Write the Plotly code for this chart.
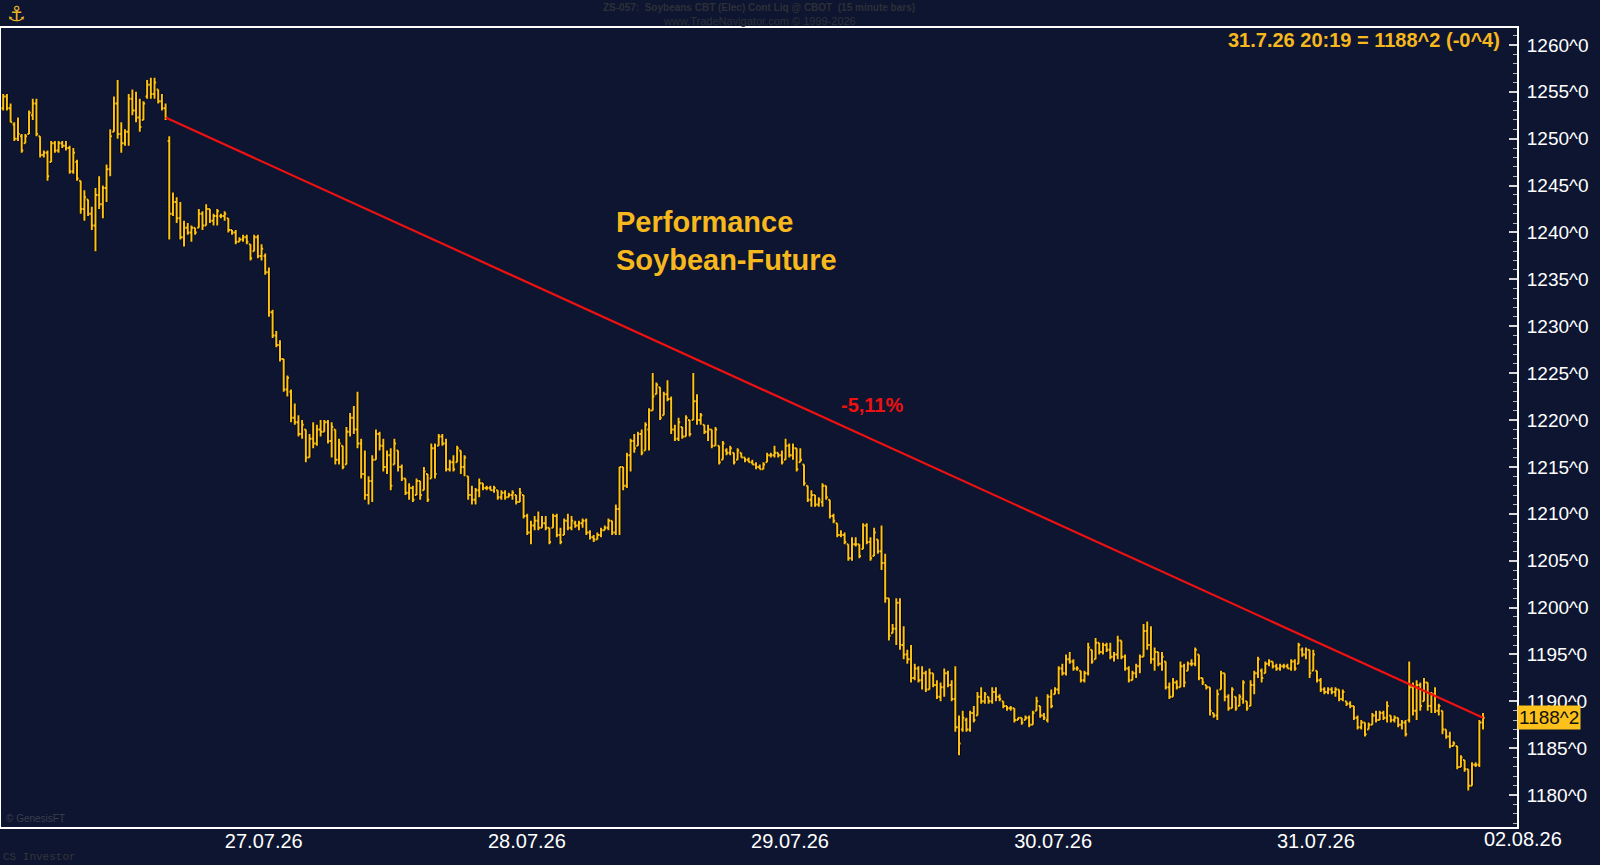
import plotly.graph_objects as go

# Soybeans CBT (Elec) Cont Liq, 15 minute bars, 27.07.26 - 31.07.26
opens = [
    1253.25, 1254.5, 1253.25, 1251.5, 1250.0, 1250.25, 1249.5, 1250.5, 1252.5, 1253.75,
    1250.25, 1248.25, 1248.5, 1247.5, 1249.5, 1248.75, 1249.5, 1249.25, 1249.0, 1246.5,
    1247.5, 1245.5, 1242.5, 1243.5, 1242.0, 1240.75, 1244.0, 1243.0, 1244.75, 1246.75,
    1250.75, 1253.75, 1250.5, 1249.5, 1250.75, 1254.25, 1253.0, 1252.25, 1252.0, 1254.5,
    1255.75, 1254.75, 1255.25, 1254.0, 1253.25, 1249.75, 1242.0, 1243.25, 1241.5, 1239.5,
    1240.5, 1240.0, 1240.5, 1240.5, 1242.0, 1240.75, 1242.5, 1241.25, 1241.75, 1241.75,
    1241.75, 1241.5, 1240.25, 1240.0, 1239.0, 1239.25, 1239.5, 1238.75, 1238.0, 1239.5,
    1237.5, 1237.5, 1235.75, 1231.5, 1229.0, 1228.0, 1226.5, 1223.25, 1223.0, 1220.25,
    1219.75, 1218.5, 1219.0, 1216.0, 1218.0, 1217.5, 1219.0, 1218.75, 1219.75, 1217.75,
    1219.0, 1215.75, 1217.25, 1215.25, 1218.75, 1220.25, 1219.0, 1217.5, 1214.25, 1212.0,
    1213.5, 1215.75, 1218.5, 1217.25, 1215.0, 1216.25, 1215.25, 1216.75, 1215.0, 1213.75,
    1212.25, 1212.75, 1212.0, 1213.5, 1212.5, 1214.25, 1213.75, 1217.0, 1217.25, 1218.25,
    1217.5, 1214.75, 1215.5, 1215.5, 1216.75, 1215.0, 1214.0, 1212.0, 1211.5, 1212.5,
    1213.25, 1212.75, 1212.75, 1212.5, 1212.5, 1211.75, 1212.25, 1211.75, 1212.0, 1212.0,
    1211.25, 1212.0, 1209.75, 1208.0, 1208.75, 1209.25, 1208.5, 1209.0, 1208.5, 1208.5,
    1209.75, 1207.75, 1207.75, 1209.25, 1208.5, 1209.0, 1208.75, 1209.0, 1209.25, 1208.0,
    1207.5, 1207.25, 1207.75, 1208.25, 1208.5, 1209.25, 1208.0, 1210.5, 1215.0, 1213.0,
    1216.25, 1217.75, 1217.25, 1218.5, 1216.75, 1219.0, 1221.0, 1222.75, 1223.5, 1220.5,
    1222.75, 1222.25, 1219.0, 1218.0, 1219.25, 1218.25, 1220.0, 1220.0, 1222.0, 1220.0,
    1219.5, 1218.75, 1219.0, 1217.25, 1217.25, 1215.75, 1216.75, 1216.5, 1216.5, 1215.75,
    1216.5, 1216.0, 1215.75, 1215.5, 1215.25, 1215.0, 1214.75, 1215.5, 1216.25, 1216.25,
    1216.5, 1216.25, 1215.75, 1217.25, 1216.25, 1217.0, 1215.5, 1215.25, 1213.0, 1211.5,
    1212.0, 1211.0, 1211.25, 1213.0, 1211.5, 1209.75, 1209.0, 1207.75, 1207.75, 1206.75,
    1205.25, 1206.75, 1206.75, 1206.25, 1208.75, 1207.0, 1205.5, 1207.25, 1206.0, 1204.75,
    1201.0, 1197.25, 1197.75, 1200.5, 1196.0, 1195.0, 1194.5, 1192.5, 1193.5, 1192.25,
    1193.0, 1191.25, 1193.0, 1191.75, 1190.5, 1191.5, 1193.0, 1191.75, 1190.25, 1187.25,
    1187.0, 1188.0, 1187.0, 1188.75, 1188.5, 1190.5, 1190.0, 1190.5, 1190.0, 1191.0,
    1190.5, 1190.0, 1189.5, 1189.25, 1189.25, 1188.0, 1188.25, 1188.0, 1188.25, 1187.5,
    1189.0, 1189.5, 1188.5, 1188.0, 1190.5, 1190.75, 1191.25, 1193.5, 1193.0, 1194.5,
    1194.25, 1193.5, 1193.25, 1192.25, 1193.0, 1195.5, 1194.5, 1196.25, 1195.25, 1196.0,
    1195.5, 1194.75, 1195.0, 1196.5, 1194.75, 1193.5, 1192.25, 1193.0, 1193.75, 1194.75,
    1197.5, 1196.0, 1194.5, 1195.25, 1194.0, 1194.25, 1191.5, 1190.5, 1192.0, 1191.5,
    1193.75, 1193.25, 1194.0, 1194.0, 1195.0, 1192.5, 1191.75, 1191.5, 1188.75, 1188.5,
    1191.25, 1193.0, 1190.5, 1189.25, 1190.5, 1189.5, 1190.25, 1190.0, 1189.5, 1191.75,
    1193.0, 1193.25, 1193.0, 1194.0, 1194.25, 1193.75, 1193.5, 1193.75, 1193.75, 1193.5,
    1194.25, 1194.0, 1195.5, 1195.0, 1195.5, 1193.25, 1193.25, 1192.25, 1191.25, 1191.0,
    1191.25, 1191.0, 1191.25, 1190.25, 1190.0, 1189.75, 1189.5, 1188.25, 1187.25, 1187.75,
    1187.0, 1187.5, 1188.5, 1188.0, 1188.75, 1188.25, 1188.5, 1188.0, 1188.25, 1187.5,
    1187.75, 1188.0, 1191.5, 1189.0, 1191.75, 1190.0, 1192.0, 1189.5, 1190.75, 1189.0,
    1189.0, 1187.0, 1186.25, 1185.25, 1185.25, 1183.0, 1183.75, 1182.75, 1181.0, 1183.25,
    1183.25, 1187.75,
]

highs = [
    1254.75, 1254.75, 1253.75, 1251.75, 1252.25, 1250.5, 1250.5, 1253.0, 1254.25, 1254.25,
    1250.25, 1248.75, 1248.75, 1249.75, 1249.75, 1249.75, 1249.75, 1249.75, 1249.25, 1249.0,
    1247.75, 1245.5, 1244.5, 1243.5, 1242.75, 1244.75, 1246.0, 1245.0, 1247.25, 1251.0,
    1254.5, 1256.25, 1251.75, 1251.0, 1254.75, 1255.25, 1255.0, 1254.25, 1254.0, 1256.25,
    1256.5, 1256.5, 1255.25, 1254.75, 1253.75, 1250.25, 1244.25, 1243.75, 1243.25, 1241.25,
    1241.0, 1240.75, 1240.5, 1242.5, 1242.25, 1243.0, 1242.5, 1242.0, 1242.5, 1242.0,
    1242.25, 1241.5, 1240.25, 1240.25, 1239.5, 1239.75, 1239.75, 1238.75, 1239.75, 1239.75,
    1238.75, 1237.75, 1236.25, 1231.75, 1229.5, 1228.5, 1226.5, 1224.75, 1223.25, 1221.75,
    1220.5, 1220.0, 1219.0, 1218.5, 1219.75, 1219.5, 1220.0, 1220.0, 1220.0, 1219.75,
    1219.0, 1218.0, 1217.25, 1219.25, 1220.75, 1221.5, 1223.0, 1218.0, 1216.75, 1214.0,
    1216.25, 1219.0, 1218.75, 1218.0, 1216.75, 1217.0, 1218.0, 1216.75, 1215.25, 1213.75,
    1213.25, 1213.0, 1213.75, 1213.5, 1215.0, 1214.25, 1217.5, 1217.5, 1218.5, 1218.5,
    1218.0, 1215.75, 1216.25, 1217.25, 1216.75, 1216.25, 1214.0, 1213.0, 1212.75, 1213.75,
    1213.25, 1213.0, 1213.0, 1213.0, 1212.5, 1212.5, 1212.5, 1212.25, 1212.5, 1212.0,
    1212.75, 1212.0, 1210.0, 1209.25, 1209.75, 1210.25, 1209.75, 1209.75, 1208.5, 1210.0,
    1210.0, 1208.5, 1209.5, 1210.0, 1209.75, 1209.25, 1209.25, 1209.5, 1209.5, 1208.25,
    1207.75, 1208.0, 1208.5, 1208.75, 1209.5, 1209.25, 1211.0, 1215.0, 1215.0, 1216.5,
    1218.0, 1218.5, 1218.75, 1219.0, 1219.75, 1221.25, 1225.0, 1224.0, 1223.5, 1223.0,
    1224.25, 1222.5, 1219.5, 1220.25, 1219.25, 1220.5, 1220.0, 1225.0, 1222.75, 1220.75,
    1219.5, 1219.5, 1219.0, 1219.25, 1217.25, 1217.75, 1217.0, 1217.25, 1216.5, 1217.0,
    1216.5, 1216.0, 1216.0, 1215.75, 1215.5, 1215.25, 1215.5, 1216.5, 1216.5, 1217.25,
    1216.5, 1216.75, 1218.0, 1217.5, 1217.5, 1217.0, 1217.0, 1215.25, 1213.0, 1212.5,
    1212.0, 1211.75, 1213.25, 1213.0, 1211.5, 1210.0, 1209.0, 1208.25, 1208.0, 1206.75,
    1207.5, 1207.5, 1206.75, 1209.0, 1209.0, 1207.5, 1208.5, 1207.25, 1208.75, 1205.75,
    1201.0, 1198.25, 1201.0, 1201.0, 1198.0, 1195.5, 1196.0, 1194.0, 1193.75, 1193.75,
    1193.25, 1193.5, 1193.0, 1192.25, 1192.0, 1193.5, 1193.25, 1192.25, 1193.75, 1188.5,
    1189.0, 1188.25, 1189.0, 1189.5, 1191.0, 1191.5, 1191.0, 1190.5, 1191.5, 1191.5,
    1190.75, 1190.0, 1189.5, 1189.5, 1189.25, 1188.25, 1188.25, 1188.5, 1188.5, 1189.0,
    1190.5, 1189.5, 1188.75, 1190.75, 1191.25, 1191.5, 1193.75, 1194.0, 1195.0, 1195.25,
    1194.5, 1193.75, 1193.25, 1193.25, 1196.25, 1195.5, 1196.75, 1196.25, 1196.25, 1196.25,
    1196.25, 1195.25, 1197.0, 1196.5, 1195.0, 1193.75, 1193.25, 1194.0, 1195.0, 1198.25,
    1198.5, 1198.0, 1195.75, 1195.25, 1195.25, 1194.25, 1192.0, 1192.5, 1192.25, 1194.25,
    1194.0, 1194.25, 1194.5, 1195.75, 1195.0, 1192.5, 1191.75, 1191.5, 1188.75, 1191.25,
    1193.25, 1193.0, 1190.75, 1191.5, 1190.5, 1190.75, 1192.25, 1190.0, 1192.25, 1193.25,
    1194.75, 1193.5, 1194.25, 1194.5, 1194.25, 1194.0, 1194.0, 1194.0, 1194.0, 1194.5,
    1194.5, 1196.25, 1195.75, 1195.75, 1195.5, 1195.5, 1193.25, 1192.5, 1191.5, 1191.5,
    1191.5, 1191.5, 1191.25, 1191.25, 1190.0, 1190.0, 1189.5, 1188.5, 1188.0, 1187.75,
    1187.75, 1188.75, 1189.0, 1189.0, 1189.0, 1190.0, 1188.5, 1188.5, 1188.25, 1188.0,
    1188.0, 1194.25, 1192.0, 1192.25, 1192.0, 1192.5, 1192.0, 1191.0, 1191.5, 1189.75,
    1189.0, 1187.0, 1186.75, 1185.75, 1185.25, 1184.25, 1183.75, 1182.75, 1183.5, 1183.5,
    1188.0, 1188.75,
]

lows = [
    1253.0, 1253.0, 1251.75, 1249.75, 1249.75, 1248.5, 1249.5, 1250.5, 1252.0, 1250.25,
    1248.0, 1248.0, 1245.5, 1247.5, 1248.5, 1248.5, 1249.0, 1248.75, 1246.25, 1246.25,
    1245.5, 1242.0, 1241.25, 1241.75, 1240.25, 1238.0, 1242.5, 1241.5, 1243.25, 1246.0,
    1250.75, 1250.0, 1248.5, 1249.25, 1249.25, 1252.5, 1251.75, 1250.75, 1252.0, 1254.25,
    1254.25, 1254.25, 1253.75, 1253.0, 1252.0, 1239.25, 1241.75, 1241.0, 1239.25, 1238.5,
    1239.75, 1239.0, 1239.75, 1240.5, 1240.25, 1240.75, 1241.0, 1240.75, 1240.75, 1241.5,
    1241.25, 1240.0, 1239.75, 1238.75, 1239.0, 1239.0, 1238.75, 1237.0, 1238.0, 1237.25,
    1237.0, 1235.5, 1231.0, 1228.75, 1227.75, 1226.25, 1223.0, 1222.5, 1219.75, 1219.5,
    1218.25, 1218.0, 1215.5, 1216.0, 1217.0, 1217.25, 1218.25, 1218.75, 1217.5, 1216.0,
    1215.25, 1215.25, 1214.75, 1215.25, 1218.25, 1218.5, 1217.0, 1213.75, 1211.5, 1211.0,
    1211.25, 1215.75, 1216.75, 1214.5, 1214.25, 1212.5, 1215.25, 1214.5, 1213.5, 1212.0,
    1211.5, 1211.25, 1212.0, 1211.5, 1212.5, 1211.25, 1213.75, 1213.75, 1217.25, 1217.25,
    1214.5, 1214.5, 1214.5, 1215.5, 1214.25, 1214.0, 1211.5, 1211.0, 1211.0, 1211.75,
    1212.5, 1212.5, 1212.5, 1212.25, 1211.5, 1211.5, 1211.5, 1211.75, 1211.5, 1211.0,
    1211.25, 1209.5, 1207.75, 1206.75, 1208.25, 1208.25, 1208.5, 1208.25, 1206.75, 1208.5,
    1207.5, 1206.75, 1207.75, 1208.25, 1208.25, 1208.5, 1208.25, 1208.5, 1207.75, 1207.25,
    1207.0, 1207.25, 1207.5, 1208.25, 1208.25, 1207.75, 1207.75, 1207.75, 1212.5, 1212.75,
    1214.5, 1216.5, 1217.25, 1216.25, 1216.75, 1216.75, 1221.0, 1222.75, 1220.0, 1220.5,
    1222.0, 1218.5, 1217.75, 1217.75, 1218.0, 1218.25, 1218.25, 1220.0, 1219.5, 1219.5,
    1218.5, 1217.75, 1217.0, 1217.25, 1215.25, 1215.75, 1216.25, 1216.25, 1215.25, 1215.75,
    1216.0, 1215.5, 1215.5, 1215.25, 1214.75, 1214.75, 1214.75, 1215.5, 1216.0, 1216.0,
    1216.0, 1215.25, 1215.75, 1216.0, 1215.75, 1214.5, 1215.5, 1213.0, 1211.25, 1210.75,
    1210.75, 1210.75, 1210.75, 1211.5, 1209.5, 1209.0, 1207.5, 1207.5, 1206.75, 1205.0,
    1205.0, 1206.5, 1205.25, 1206.25, 1206.75, 1205.0, 1205.5, 1205.75, 1204.0, 1200.5,
    1196.5, 1197.25, 1196.0, 1195.5, 1194.5, 1194.0, 1192.0, 1192.25, 1192.0, 1191.25,
    1191.0, 1191.25, 1191.5, 1190.25, 1190.0, 1190.5, 1191.5, 1190.0, 1186.75, 1184.25,
    1186.75, 1186.75, 1186.75, 1187.75, 1188.5, 1189.75, 1189.75, 1189.75, 1189.75, 1190.0,
    1190.0, 1189.25, 1189.0, 1189.0, 1187.75, 1188.0, 1187.5, 1188.0, 1187.25, 1187.5,
    1189.0, 1188.25, 1188.0, 1187.75, 1189.25, 1190.75, 1190.75, 1192.75, 1192.75, 1194.0,
    1193.25, 1193.25, 1192.0, 1192.0, 1192.75, 1194.0, 1194.5, 1195.0, 1195.0, 1195.25,
    1194.5, 1194.25, 1194.5, 1194.5, 1193.25, 1192.0, 1192.25, 1192.5, 1193.0, 1194.75,
    1195.5, 1194.0, 1193.25, 1193.75, 1193.25, 1191.25, 1190.25, 1190.5, 1191.25, 1191.5,
    1191.5, 1193.25, 1193.75, 1193.75, 1192.25, 1191.75, 1191.25, 1188.5, 1188.25, 1188.0,
    1191.25, 1190.0, 1189.0, 1189.25, 1189.0, 1189.5, 1189.75, 1189.0, 1189.5, 1190.75,
    1192.5, 1192.0, 1193.0, 1193.75, 1193.5, 1193.25, 1193.25, 1193.5, 1193.5, 1193.25,
    1193.25, 1194.0, 1194.75, 1194.5, 1192.5, 1193.25, 1192.0, 1191.0, 1190.75, 1190.75,
    1190.75, 1190.5, 1190.0, 1190.0, 1189.5, 1189.25, 1188.0, 1187.0, 1187.0, 1186.25,
    1187.0, 1187.5, 1187.75, 1188.0, 1188.0, 1187.75, 1187.75, 1187.75, 1187.25, 1187.0,
    1186.25, 1187.75, 1188.5, 1188.0, 1189.0, 1190.0, 1189.0, 1188.75, 1188.75, 1188.5,
    1186.5, 1186.0, 1185.0, 1185.25, 1182.75, 1183.0, 1182.5, 1180.5, 1181.0, 1183.0,
    1183.0, 1187.0,
]

closes = [
    1254.5, 1253.25, 1251.75, 1250.0, 1250.5, 1248.75, 1250.25, 1252.75, 1253.75, 1250.5,
    1248.25, 1248.5, 1246.0, 1249.5, 1248.75, 1249.5, 1249.25, 1249.0, 1246.5, 1248.5,
    1245.75, 1242.5, 1243.75, 1242.0, 1240.75, 1244.0, 1243.0, 1244.75, 1246.75, 1250.25,
    1253.75, 1250.5, 1249.5, 1250.75, 1254.25, 1253.0, 1252.25, 1251.25, 1253.75, 1255.75,
    1254.75, 1256.0, 1254.0, 1253.25, 1252.25, 1242.0, 1243.25, 1241.5, 1239.5, 1240.5,
    1240.0, 1240.5, 1240.0, 1242.0, 1240.75, 1242.5, 1241.25, 1241.75, 1242.25, 1241.75,
    1242.0, 1240.25, 1240.0, 1239.0, 1239.25, 1239.5, 1239.0, 1237.25, 1239.5, 1237.5,
    1238.25, 1235.75, 1231.5, 1229.0, 1228.0, 1226.5, 1223.25, 1224.5, 1220.25, 1219.75,
    1218.5, 1219.5, 1216.0, 1218.0, 1217.5, 1219.0, 1218.75, 1219.75, 1217.75, 1219.25,
    1215.75, 1217.5, 1215.0, 1218.75, 1220.25, 1219.0, 1217.5, 1214.25, 1212.0, 1213.5,
    1215.75, 1218.5, 1217.25, 1215.0, 1216.25, 1213.0, 1217.5, 1215.0, 1213.75, 1212.25,
    1212.75, 1211.5, 1213.5, 1212.0, 1214.5, 1211.5, 1217.0, 1214.25, 1218.25, 1217.5,
    1214.75, 1215.5, 1214.75, 1217.0, 1215.0, 1216.0, 1212.0, 1211.5, 1212.5, 1213.25,
    1212.75, 1212.75, 1212.5, 1212.75, 1211.75, 1212.25, 1211.75, 1212.0, 1212.25, 1211.25,
    1212.25, 1209.75, 1208.0, 1208.75, 1209.25, 1208.5, 1209.0, 1208.5, 1207.0, 1209.75,
    1207.75, 1207.0, 1209.25, 1208.5, 1209.25, 1208.75, 1209.0, 1209.25, 1208.0, 1207.5,
    1207.25, 1207.75, 1208.25, 1208.5, 1209.25, 1208.0, 1210.5, 1215.0, 1213.0, 1216.25,
    1217.75, 1217.0, 1218.5, 1216.5, 1219.5, 1221.0, 1222.5, 1223.75, 1220.25, 1222.75,
    1222.25, 1219.0, 1218.0, 1219.75, 1218.25, 1220.25, 1218.5, 1222.0, 1220.0, 1220.5,
    1218.75, 1219.0, 1217.25, 1219.0, 1215.5, 1217.5, 1216.5, 1217.0, 1215.5, 1216.75,
    1216.0, 1215.75, 1215.5, 1215.25, 1215.0, 1214.75, 1215.25, 1216.25, 1216.25, 1216.5,
    1216.25, 1215.5, 1217.25, 1216.25, 1217.0, 1214.75, 1215.75, 1213.25, 1211.5, 1212.0,
    1211.0, 1211.5, 1213.0, 1211.75, 1209.75, 1209.25, 1207.75, 1207.75, 1207.0, 1205.25,
    1206.75, 1206.75, 1205.5, 1208.75, 1207.0, 1205.25, 1208.0, 1206.0, 1204.75, 1201.0,
    1197.0, 1197.75, 1200.5, 1196.0, 1195.0, 1194.5, 1192.5, 1193.5, 1192.25, 1193.0,
    1191.25, 1193.0, 1191.75, 1190.5, 1191.5, 1193.0, 1191.75, 1190.25, 1187.25, 1185.5,
    1188.25, 1187.0, 1188.75, 1188.0, 1190.5, 1190.0, 1190.75, 1190.0, 1191.0, 1190.5,
    1190.25, 1189.5, 1189.25, 1189.25, 1188.0, 1188.25, 1187.75, 1188.25, 1187.5, 1188.75,
    1190.0, 1188.5, 1188.25, 1190.5, 1189.5, 1191.25, 1193.5, 1193.0, 1194.5, 1194.25,
    1193.5, 1193.5, 1192.25, 1193.0, 1195.75, 1194.25, 1196.25, 1195.25, 1196.0, 1195.5,
    1194.75, 1195.0, 1196.5, 1194.75, 1193.5, 1192.25, 1193.0, 1193.75, 1194.75, 1197.5,
    1196.0, 1194.5, 1195.25, 1194.0, 1194.75, 1191.5, 1190.5, 1192.0, 1191.5, 1193.75,
    1192.0, 1194.0, 1194.0, 1195.5, 1192.5, 1192.0, 1191.5, 1189.0, 1188.5, 1190.75,
    1193.0, 1190.5, 1189.25, 1191.25, 1189.25, 1190.5, 1192.0, 1189.25, 1191.75, 1193.0,
    1194.5, 1192.5, 1194.0, 1194.25, 1193.75, 1193.5, 1193.75, 1193.75, 1193.5, 1194.25,
    1193.5, 1196.0, 1195.0, 1195.5, 1193.0, 1195.0, 1192.25, 1191.25, 1191.0, 1191.25,
    1191.0, 1191.25, 1190.25, 1191.0, 1189.75, 1189.5, 1188.25, 1187.25, 1187.75, 1186.5,
    1187.5, 1188.5, 1188.0, 1188.75, 1188.25, 1189.5, 1188.0, 1188.25, 1187.5, 1187.75,
    1186.5, 1191.5, 1189.0, 1191.75, 1189.5, 1192.0, 1189.5, 1190.75, 1189.0, 1189.5,
    1187.0, 1186.25, 1185.25, 1185.5, 1183.0, 1184.0, 1182.75, 1181.0, 1183.25, 1183.25,
    1187.75, 1188.25,
]

assert len(opens) == len(highs) == len(lows) == len(closes)

# day labels on the time axis (bar index of each label)
day_positions = [70.6, 141.9, 213.2, 284.5, 355.7]
day_labels = ['27.07.26', '28.07.26', '29.07.26', '30.07.26', '31.07.26']
last_day_label = '02.08.26'

# trend line from the close before the gap down to the last close
trend_start = 44
perf_text = '-5,11%'
last_quote = '31.7.26 20:19 = 1188^2 (-0^4)'

bg = '#0d1530'
gold = '#fcc21b'
font_main = 'Arial, Liberation Sans, sans-serif'


def cbot(v):
    # CBOT quote style: 1188.25 -> 1188^2 (eighths)
    whole = int(v)
    return f"{whole}^{int(round((v - whole) * 8))}"


bars = list(range(len(closes)))

fig = go.Figure()

# dark outline below the bars
fig.add_trace(go.Ohlc(
    x=bars, open=opens, high=highs, low=lows, close=closes,
    increasing_line_color='#000000', decreasing_line_color='#000000',
    line_width=3.6, tickwidth=0.45, hoverinfo='skip', showlegend=False,
))
fig.add_trace(go.Ohlc(
    x=bars, open=opens, high=highs, low=lows, close=closes,
    increasing_line_color=gold, decreasing_line_color=gold,
    line_width=2.0, tickwidth=0.45, showlegend=False,
))

# red performance line
fig.add_trace(go.Scatter(
    x=[bars[trend_start], bars[-1]],
    y=[closes[trend_start], closes[-1]],
    mode='lines', line=dict(color='#ee1111', width=2.2),
    hoverinfo='skip', showlegend=False,
))

tickvals = list(range(1180, 1261, 5))

fig.update_layout(
    width=1600,
    height=865,
    margin=dict(l=1, r=83, t=28, b=38),
    paper_bgcolor=bg,
    plot_bgcolor=bg,
    font=dict(family=font_main, color='white'),
    showlegend=False,
    xaxis=dict(
        range=[-0.6, 410.2],
        rangeslider=dict(visible=False),
        showgrid=False, zeroline=False,
        showline=True, linecolor='white', linewidth=2, mirror=True,
        tickvals=day_positions, ticktext=day_labels,
        ticks='', tickfont=dict(size=20, color='white'),
        ticklabelstandoff=-5,
        automargin=False,
    ),
    yaxis=dict(
        side='right',
        range=[1176.6, 1261.8],
        showgrid=False, zeroline=False,
        showline=True, linecolor='white', linewidth=2, mirror=True,
        tickvals=tickvals, ticktext=[cbot(v) for v in tickvals],
        ticks='inside', ticklen=8, tickwidth=1.5, tickcolor='#d8d8d8',
        minor=dict(dtick=1, ticks='inside', ticklen=4, tickcolor='#b8b8b8', tickwidth=1),
        tickfont=dict(size=19, color='white'),
        ticklabelstandoff=4,
        automargin=False,
    ),
)

plot_h = 865 - 28 - 38

annotations = [
    # chart caption
    dict(x=165.5, y=1243.0, xref='x', yref='y', xanchor='left', yanchor='top',
         text='<b>Performance<br>Soybean-Future</b>', align='left', showarrow=False,
         font=dict(size=29, color='#f7b81e', family=font_main)),
    dict(x=235.4, y=1221.6, xref='x', yref='y', text=f'<b>{perf_text}</b>',
         showarrow=False, font=dict(size=20, color='#ee1111', family=font_main)),
    # last quote, top right
    dict(x=0.99, y=0.985, xref='paper', yref='paper', xanchor='right', yanchor='middle',
         text=f'<b>{last_quote}</b>', showarrow=False,
         font=dict(size=20, color='#f7b81e', family=font_main)),
    # current price box on the axis
    dict(x=1.0, y=closes[-1], xref='paper', yref='y', xanchor='left', yanchor='middle',
         text=cbot(closes[-1]), showarrow=False, bgcolor='#fcc21b', borderpad=1,
         font=dict(size=19, color='#111111', family=font_main)),
    dict(x=1.004, y=0, xref='paper', yref='paper', xanchor='center', yanchor='top',
         yshift=1, text=last_day_label, showarrow=False,
         font=dict(size=20, color='white', family=font_main)),
    # header (dark, barely visible in the original)
    dict(x=0.5, y=(827 - 8) / plot_h, xref='paper', yref='paper', yanchor='middle',
         text='<b>ZS-057:  Soybeans CBT (Elec) Cont Liq @ CBOT  (15 minute bars)</b>',
         showarrow=False, font=dict(size=10, color='#2e3038', family=font_main)),
    dict(x=0.5, y=(827 - 21) / plot_h, xref='paper', yref='paper', yanchor='middle',
         text='www.TradeNavigator.com © 1999-2026',
         showarrow=False, font=dict(size=11, color='#2e3038', family=font_main)),
    dict(x=0.002, y=0, xref='paper', yref='paper', xanchor='left', yanchor='bottom',
         yshift=1, text='© GenesisFT', showarrow=False,
         font=dict(size=10, color='#3b3f4c', family=font_main)),
    dict(x=0, y=(827 - 857) / plot_h, xref='paper', yref='paper', xanchor='left',
         yanchor='middle', text='CS Investor', showarrow=False,
         font=dict(size=11, color='#34363c', family='Liberation Mono, monospace')),
    # logo stand-in
    dict(x=0.0, y=(827 - 14) / plot_h, xref='paper', yref='paper', xanchor='left',
         yanchor='middle', xshift=4, text='⚓', showarrow=False,
         font=dict(size=21, color='#e8b422', family='DejaVu Sans')),
]

fig.update_layout(annotations=annotations)

# the page gets no body margin so the figure fills the 1600x865 window
fig.write_html('out.html', config={'displayModeBar': False},
               post_script="document.body.style.margin='0';")
